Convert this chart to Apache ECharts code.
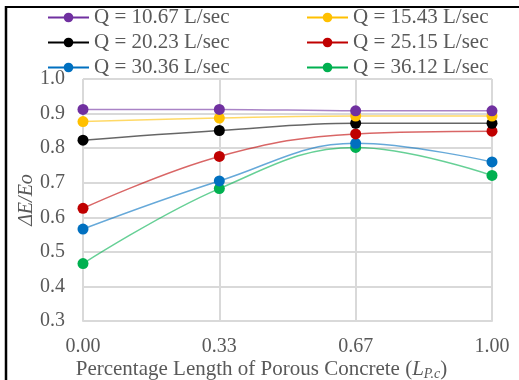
<!DOCTYPE html>
<html>
<head>
<meta charset="utf-8">
<script src="https://cdn.jsdelivr.net/npm/echarts@6/dist/echarts.min.js"></script>
<style>html,body{margin:0;padding:0;background:#fff}#c{width:519px;height:380px}</style>
</head>
<body>
<div id="c"></div>
<script>
var categories = ['0.00', '0.33', '0.67', '1.00'];
var seriesNames = ['Q = 10.67 L/sec', 'Q = 15.43 L/sec', 'Q = 20.23 L/sec', 'Q = 25.15 L/sec', 'Q = 30.36 L/sec', 'Q = 36.12 L/sec'];
var q1067 = [0.912, 0.912, 0.908, 0.908];
var q1543 = [0.877, 0.887, 0.893, 0.893];
var q2023 = [0.823, 0.851, 0.872, 0.872];
var q2515 = [0.626, 0.776, 0.841, 0.849];
var q3036 = [0.566, 0.705, 0.814, 0.760];
var q3612 = [0.466, 0.683, 0.802, 0.721];
var colors = ['#7030A0', '#FFC000', '#000000', '#C00000', '#0070C0', '#00B050'];
var values = [q1067, q1543, q2023, q2515, q3036, q3612];

var FONT = 'Liberation Serif';
var TXT = '#595959';
var GRID = '#D9D9D9';

var series = seriesNames.map(function (n, i) {
  return {
    name: n,
    type: 'line',
    data: values[i],
    smooth: 0.4,
    symbol: 'circle',
    symbolSize: 11,
    itemStyle: { color: colors[i] },
    lineStyle: { color: colors[i], width: 1.5, opacity: 0.6 },
    emphasis: { disabled: true },
    z: 10 - i
  };
});

var legendCommon = {
  orient: 'vertical',
  top: 7,
  padding: 0,
  itemGap: 4,
  itemWidth: 41,
  itemHeight: 12,
  textStyle: { fontFamily: FONT, fontSize: 21, color: TXT },
  lineStyle: { opacity: 1 }
};

var chart = echarts.init(document.getElementById('c'));
chart.setOption({
  animation: false,
  backgroundColor: '#fff',
  legend: [
    Object.assign({}, legendCommon, { left: 47, data: [seriesNames[0], seriesNames[2], seriesNames[4]] }),
    Object.assign({}, legendCommon, { left: 306, data: [seriesNames[1], seriesNames[3], seriesNames[5]] })
  ],
  grid: { left: 83, right: 27, top: 79, bottom: 59, outerBoundsMode: 'none', containLabel: false },
  xAxis: {
    type: 'category',
    data: categories,
    boundaryGap: false,
    axisLine: { lineStyle: { color: GRID, width: 2 } },
    axisTick: { show: false },
    splitLine: { show: true, lineStyle: { color: GRID, width: 2 } },
    axisLabel: { fontFamily: FONT, fontSize: 20, color: TXT, margin: 16 },
    name: '{n|Percentage Length of Porous Concrete (}{i|L}{s|P.c}{n|)}',
    nameLocation: 'middle',
    nameGap: 37,
    nameMoveOverlap: false,
    nameTextStyle: {
      padding: [0, 52, 0, 0],
      rich: {
        n: { fontFamily: FONT, fontSize: 21, color: TXT },
        i: { fontFamily: FONT, fontSize: 21, color: TXT, fontStyle: 'italic' },
        s: { fontFamily: FONT, fontSize: 14, color: TXT, fontStyle: 'italic', padding: [9, 0, 0, 0] }
      }
    }
  },
  yAxis: {
    type: 'value',
    min: 0.3,
    max: 1.0,
    interval: 0.1,
    axisLine: { show: false },
    axisTick: { show: false },
    splitLine: { show: true, lineStyle: { color: GRID, width: 2 } },
    axisLabel: {
      fontFamily: FONT, fontSize: 20, color: TXT, margin: 18,
      formatter: function (v) { return v.toFixed(1); }
    },
    name: 'ΔE/Eo',
    nameLocation: 'middle',
    nameRotate: 90,
    nameGap: 46,
    nameMoveOverlap: false,
    nameTextStyle: { fontFamily: FONT, fontSize: 20, color: TXT, fontStyle: 'italic' }
  },
  graphic: [
    { type: 'line', shape: { x1: 6, y1: 7, x2: 519, y2: 7 }, style: { stroke: '#000', lineWidth: 2 } },
    { type: 'line', shape: { x1: 6, y1: 6, x2: 6, y2: 380 }, style: { stroke: '#000', lineWidth: 2.5 } }
  ],
  series: series
});
</script>
</body>
</html>
